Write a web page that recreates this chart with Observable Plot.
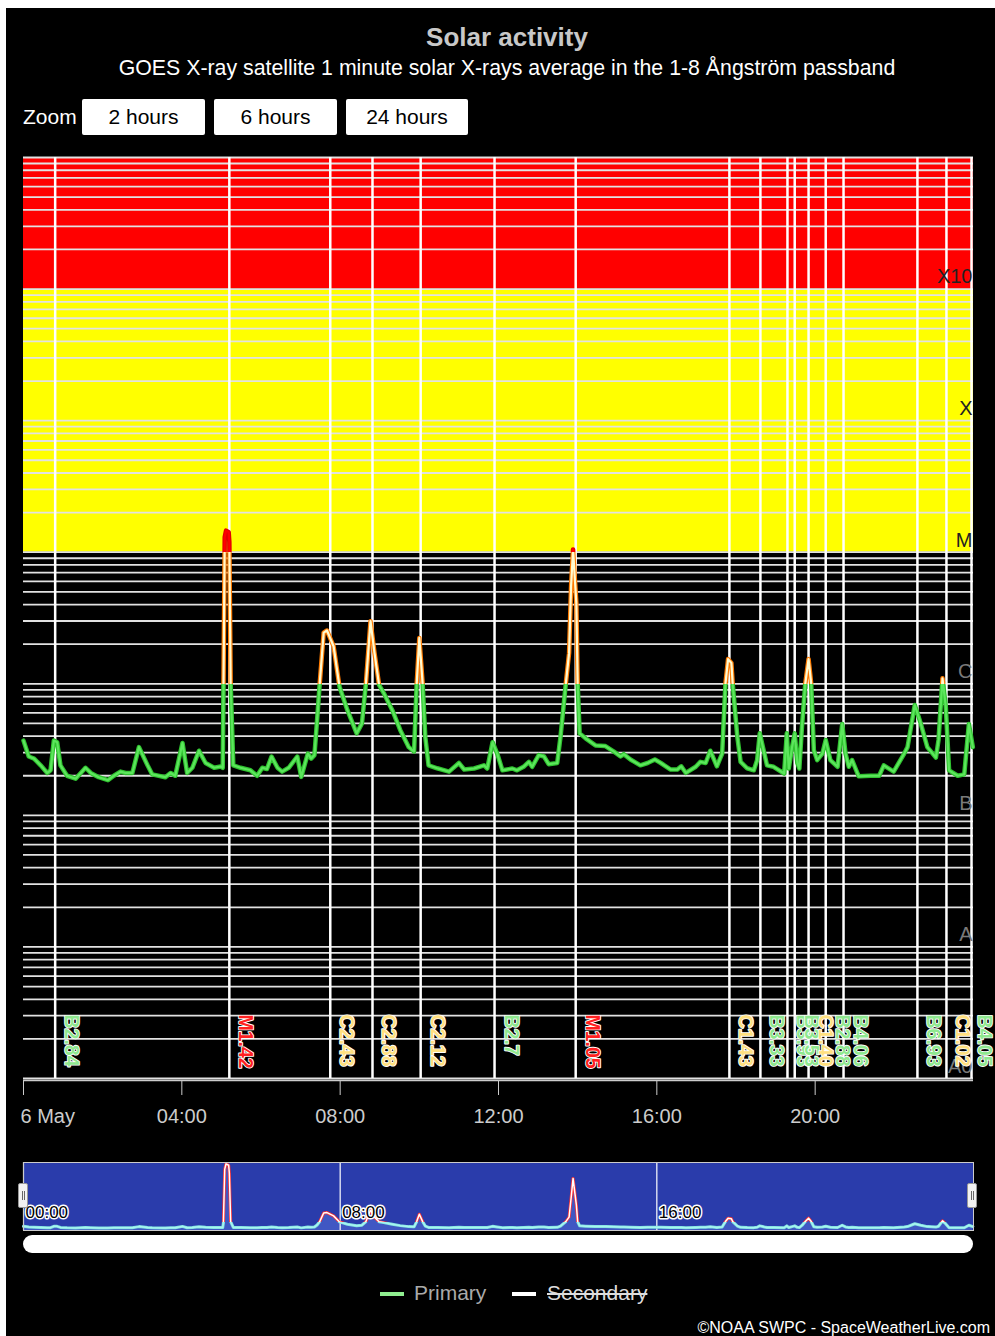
<!DOCTYPE html>
<html><head><meta charset="utf-8">
<script src="https://cdn.jsdelivr.net/npm/d3@7"></script>
<script src="https://cdn.jsdelivr.net/npm/@observablehq/plot@0.6"></script>
<style>
body{margin:0;background:#fff;font-family:"Liberation Sans",Arial,sans-serif;}
#bg{position:absolute;left:6px;top:8px;width:989px;height:1328px;background:#000;}
.abs{position:absolute;white-space:nowrap;}
#title{left:0;width:1014px;top:22px;text-align:center;font-weight:bold;font-size:26px;line-height:30px;color:#c8c8c8;}
#subtitle{left:0;width:1014px;top:56px;text-align:center;font-size:21.3px;line-height:24px;color:#fff;}
#zoomlbl{left:23px;top:105px;font-size:21px;line-height:24px;color:#fff;}
.btn{top:99px;height:36px;line-height:36px;background:#fff;color:#000;font-size:21px;text-align:center;border-radius:2px;}
#main{left:0;top:150px;}
#nav{left:0;top:1150px;}
.handle{top:1183px;width:8px;height:23px;background:#f2f2f2;border:1px solid #999;border-radius:2px;}
.handle::before,.handle::after{content:"";position:absolute;top:7px;width:1px;height:9px;background:#666;}
.handle::before{left:3px}.handle::after{left:5px}
#scroll{left:23px;top:1235px;width:950px;height:18px;border-radius:9px;background:#fff;}
.legline{top:1292px;width:24px;height:4px;}
.legtxt{top:1281px;font-size:21px;line-height:24px;}
#credit{right:5px;top:1319px;font-size:16px;line-height:18px;color:#fff;}
</style></head>
<body>
<div id="bg"></div>
<div id="title" class="abs">Solar activity</div>
<div id="subtitle" class="abs">GOES X-ray satellite 1 minute solar X-rays average in the 1-8 Ångström passband</div>
<div id="zoomlbl" class="abs">Zoom</div>
<div class="abs btn" style="left:82px;width:123px">2 hours</div>
<div class="abs btn" style="left:214px;width:123px">6 hours</div>
<div class="abs btn" style="left:346px;width:122px">24 hours</div>
<div id="main" class="abs"></div>
<div id="nav" class="abs"></div>
<div class="abs handle" style="left:18px"></div>
<div class="abs handle" style="left:967px"></div>
<div id="scroll" class="abs"></div>
<div class="abs legline" style="left:380px;background:#90ee90"></div>
<div class="abs legtxt" style="left:414px;color:#aaa">Primary</div>
<div class="abs legline" style="left:512px;background:#fff"></div>
<div class="abs legtxt" style="left:547px;color:#ddd;text-decoration:line-through">Secondary</div>
<div id="credit" class="abs">©NOAA SWPC - SpaceWeatherLive.com</div>
<script>
// ---- data (GOES 1-8 Å flux, W/m², 6 May) ----
const times = ["00:00","00:08","00:16","00:26","00:36","00:41","00:46","00:51","00:56","01:06","01:19","01:34","01:42","01:54","02:08","02:17","02:27","02:35","02:45","02:55","03:08","03:15","03:35","03:43","03:50","04:01","04:08","04:16","04:26","04:36","04:49","04:59","05:02","05:03","05:05","05:07","05:11","05:12","05:14","05:18","05:29","05:44","05:54","06:02","06:09","06:16","06:25","06:32","06:42","06:55","07:01","07:11","07:16","07:21","07:25","07:29","07:35","07:40","07:50","07:59","08:11","08:25","08:33","08:39","08:46","08:52","08:59","09:06","09:19","09:31","09:44","09:52","09:56","10:00","10:05","10:09","10:14","10:27","10:45","11:00","11:08","11:23","11:38","11:43","11:51","11:58","12:06","12:21","12:28","12:38","12:46","12:51","13:01","13:09","13:16","13:29","13:34","13:42","13:47","13:50","13:53","13:58","14:00","14:03","14:12","14:27","14:42","14:55","15:05","15:10","15:20","15:35","15:46","15:57","16:06","16:21","16:31","16:37","16:44","16:59","17:06","17:14","17:21","17:31","17:39","17:44","17:48","17:53","17:55","18:02","18:07","18:17","18:27","18:32","18:36","18:43","18:47","18:57","19:13","19:17","19:20","19:25","19:29","19:33","19:36","19:40","19:45","19:50","19:54","19:58","20:03","20:11","20:16","20:23","20:34","20:41","20:46","20:51","20:56","21:06","21:24","21:37","21:44","21:59","22:15","22:20","22:31","22:40","22:50","23:03","23:07","23:13","23:18","23:23","23:36","23:46","23:53","23:59"];
const flux = [3.7e-7,2.8e-7,2.7e-7,2.4e-7,2.1e-7,2.2e-7,3.7e-7,3.6e-7,2.4e-7,2.0e-7,1.9e-7,2.3e-7,2.1e-7,1.95e-7,1.85e-7,2.0e-7,2.15e-7,2.1e-7,2.1e-7,3.3e-7,2.4e-7,2.05e-7,1.95e-7,2.1e-7,2.0e-7,3.55e-7,2.1e-7,2.3e-7,3.1e-7,2.5e-7,2.3e-7,2.35e-7,2.3e-7,8e-7,1.3e-5,1.46e-5,1.42e-5,1.2e-5,1.0e-6,2.4e-7,2.3e-7,2.2e-7,2.0e-7,2.3e-7,2.25e-7,2.8e-7,2.3e-7,2.15e-7,2.3e-7,2.8e-7,1.96e-7,2.95e-7,2.7e-7,2.87e-7,5.3e-7,1.0e-6,2.45e-6,2.54e-6,1.93e-6,9.5e-7,6.3e-7,4.2e-7,5.0e-7,1.0e-6,2.99e-6,1.72e-6,9.8e-7,8.5e-7,6.3e-7,4.46e-7,3.3e-7,3.05e-7,1.0e-6,2.23e-6,1.0e-6,3.96e-7,2.4e-7,2.28e-7,2.15e-7,2.5e-7,2.23e-7,2.27e-7,2.4e-7,2.27e-7,3.6e-7,2.95e-7,2.2e-7,2.27e-7,2.2e-7,2.34e-7,2.55e-7,2.34e-7,2.87e-7,2.8e-7,2.45e-7,2.5e-7,3.96e-7,1.0e-6,1.71e-6,5.5e-6,1.05e-5,4.1e-6,1.0e-6,4.2e-7,3.85e-7,3.4e-7,3.36e-7,3.05e-7,2.8e-7,2.92e-7,2.66e-7,2.4e-7,2.5e-7,2.66e-7,2.5e-7,2.23e-7,2.23e-7,2.36e-7,2.1e-7,2.34e-7,2.55e-7,2.5e-7,3.1e-7,2.36e-7,2.95e-7,1.0e-6,1.54e-6,1.44e-6,1.0e-6,3.96e-7,2.55e-7,2.28e-7,2.2e-7,2.63e-7,4.2e-7,2.95e-7,2.4e-7,2.34e-7,2.08e-7,4.2e-7,2.27e-7,3.3e-7,4.2e-7,2.5e-7,2.27e-7,4.72e-7,1.0e-6,1.54e-6,1.0e-6,3.13e-7,2.63e-7,2.95e-7,3.74e-7,2.63e-7,2.34e-7,4.95e-7,2.95e-7,2.34e-7,2.63e-7,1.98e-7,2.0e-7,2.0e-7,2.4e-7,2.15e-7,2.95e-7,3.3e-7,6.9e-7,5.0e-7,3.3e-7,2.75e-7,3.74e-7,1.1e-6,6.7e-7,2.2e-7,2.0e-7,2.05e-7,4.95e-7,3.3e-7];
const flareTimes = ["00:48","05:12","07:45","08:49","10:02","11:54","13:57","17:50","18:37","19:18","19:29","19:50","20:16","20:43","22:35","23:19","23:57"];
const flareLabels = ["B2.84","M1.42","C2.43","C2.88","C2.12","B2.7","M1.05","C1.43","B3.33","B3.93","B3.53","C1.40","B2.88","B4.06","B6.93","C1.02","B4.05"];
const classNames = ["A0","A","B","C","M","X","X10"];
const classLevels = [1e-9,1e-8,1e-7,1e-6,1e-5,1e-4,1e-3];
const tickTimes = ["00:00","04:00","08:00","12:00","16:00","20:00"];
const navTickTimes = ["00:00","08:00","16:00"];

// ---- build ----
const parseT = s => { const [h,m] = s.split(":").map(Number); return new Date(Date.UTC(2024,4,6,h,m)); };
const dayStart = parseT("00:00"), dayEnd = new Date(Date.UTC(2024,4,7));
const series = times.map((t,i) => ({t: parseT(t), v: flux[i]}));
const flares = flareTimes.map((t,i) => ({t: parseT(t), label: flareLabels[i]}));
const classes = classNames.map((n,i) => ({name: n, level: classLevels[i]}));
const bands = [{lo: classLevels[4], hi: classLevels[6], cls: "M"}, {lo: classLevels[6], hi: 1e-2, cls: "X10"}];
const gridVals = d3.range(-9,-2).flatMap(e => d3.range(1,10).map(k => k * Math.pow(10,e))).concat([1e-2]);
const tickDates = tickTimes.map(parseT);
const navTicks = navTickTimes.map(parseT);
const fmtTick = d => d.getUTCHours() === 0 ? "6 May" : d3.utcFormat("%H:%M")(d);

const bandFill = {M: "#ffff00", X10: "#ff0000"};
const flareFill = {B: "#8fe88f", C: "#ffe080", M: "#ff2020"};
const classFill = n => (n === "X10" || n === "X" || n === "M") ? "#222" : "#7a7a7a";
const font = "Liberation Sans, Arial, sans-serif";
const flareTextOpts = dx => ({x: "t", text: "label", frameAnchor: "bottom", rotate: 90, textAnchor: "start", dx, dy: -64,
  fill: d => flareFill[d.label[0]], stroke: "#fff", strokeWidth: 1.8, paintOrder: "stroke", fontSize: 19.5, fontWeight: "bold"});

const chart = Plot.plot({
  width: 995, height: 990, marginTop: 7, marginLeft: 23, marginRight: 22, marginBottom: 62,
  style: {background: "transparent", color: "#ccc", fontFamily: font, overflow: "visible"},
  x: {type: "utc", domain: [dayStart, dayEnd], axis: null},
  y: {type: "log", domain: [1e-9, 1e-2], axis: null},
  marks: [
    Plot.rect(bands, {y1: "lo", y2: "hi", fill: d => bandFill[d.cls]}),
    Plot.ruleY(gridVals, {stroke: "#e2e2e2", strokeWidth: 1.8}),
    Plot.ruleX(flares, {x: "t", stroke: "#fff", strokeWidth: 2.5}),
    Plot.line(series, {x: "t", y: "v", stroke: "url(#zoneOuter)", strokeWidth: 4.5, strokeLinejoin: "round"}),
    Plot.line(series, {x: "t", y: "v", stroke: "url(#zoneInner)", strokeWidth: 2.2, strokeLinejoin: "round"}),
    Plot.text(classes, {y: "level", text: "name", frameAnchor: "right", textAnchor: "end", dx: -1, dy: -12, fill: d => classFill(d.name), fontSize: 20}),
    Plot.text(flares.slice(0, -1), flareTextOpts(10)),
    Plot.text(flares.slice(-1), flareTextOpts(6)),
    Plot.ruleY([1e-9], {stroke: "#ccc", strokeWidth: 1.5, dy: 2}),
    Plot.axisX({ticks: tickDates, tickSize: 15, tickFormat: () => "", label: null, stroke: "#ccc", dy: 2}),
    Plot.text(tickDates.slice(0,1), {x: d => d, text: fmtTick, frameAnchor: "bottom", dy: 44, dx: -3, textAnchor: "start", fill: "#ccc", fontSize: 20}),
    Plot.text(tickDates.slice(1), {x: d => d, text: fmtTick, frameAnchor: "bottom", dy: 44, fill: "#ccc", fontSize: 20})
  ]
});
document.getElementById("main").appendChild(chart);

function addGradient(svg, id, y1, y2, stops) {
  let defs = d3.select(svg).select("defs");
  if (defs.empty()) defs = d3.select(svg).insert("defs", ":first-child");
  const g = defs.append("linearGradient").attr("id", id).attr("gradientUnits", "userSpaceOnUse")
    .attr("x1", 0).attr("x2", 0).attr("y1", y1).attr("y2", y2);
  stops.forEach(([o, c]) => g.append("stop").attr("offset", o).attr("stop-color", c));
}
{
  const ys = chart.scale("y");
  const top = ys.apply(1e-2), bot = ys.apply(1e-9);
  const oM = (ys.apply(1e-5) - top) / (bot - top), oC = (ys.apply(1e-6) - top) / (bot - top);
  addGradient(chart, "zoneOuter", top, bot, [[0,"#e00000"],[oM,"#e00000"],[oM,"#ff7a00"],[oC,"#ff7a00"],[oC,"#2fc22f"],[1,"#2fc22f"]]);
  addGradient(chart, "zoneInner", top, bot, [[0,"#ff0000"],[oM,"#ff0000"],[oM,"#fffbd0"],[oC,"#fffbd0"],[oC,"#5ce65c"],[1,"#5ce65c"]]);
}

const nav = Plot.plot({
  width: 995, height: 90, marginTop: 12, marginBottom: 10, marginLeft: 23, marginRight: 22,
  style: {background: "transparent", fontFamily: font, overflow: "visible"},
  x: {type: "utc", domain: [dayStart, dayEnd], axis: null},
  y: {type: "pow", exponent: 0.75, domain: [0, 1.5e-5], axis: null},
  marks: [
    Plot.frame({fill: "#2a3cab"}),
    Plot.areaY(series, {x: "t", y: "v", fill: "#5a78e0", fillOpacity: 0.45}),
    Plot.ruleX(navTicks, {x: d => d, stroke: "#fff", strokeWidth: 1.2}),
    Plot.line(series, {x: "t", y: "v", stroke: "url(#navOuter)", strokeWidth: 3}),
    Plot.line(series, {x: "t", y: "v", stroke: "url(#navInner)", strokeWidth: 1.5}),
    Plot.text(navTicks, {x: d => d, text: d => d3.utcFormat("%H:%M")(d), frameAnchor: "bottom", textAnchor: "start", dx: 2, dy: -13,
      fill: "#000", stroke: "#fff", strokeWidth: 3, fontSize: 17}),
    Plot.frame({stroke: "#ccc"})
  ]
});
document.getElementById("nav").appendChild(nav);
{
  const ys = nav.scale("y");
  const top = ys.apply(1.5e-5), bot = ys.apply(0);
  const oC = (ys.apply(1e-6) - top) / (bot - top);
  addGradient(nav, "navOuter", top, bot, [[0,"#ff3030"],[oC,"#ff3030"],[oC,"#7fe0e0"],[1,"#7fe0e0"]]);
  addGradient(nav, "navInner", top, bot, [[0,"#ffffff"],[oC,"#ffffff"],[oC,"#a8f5f0"],[1,"#a8f5f0"]]);
}
</script>
</body></html>
